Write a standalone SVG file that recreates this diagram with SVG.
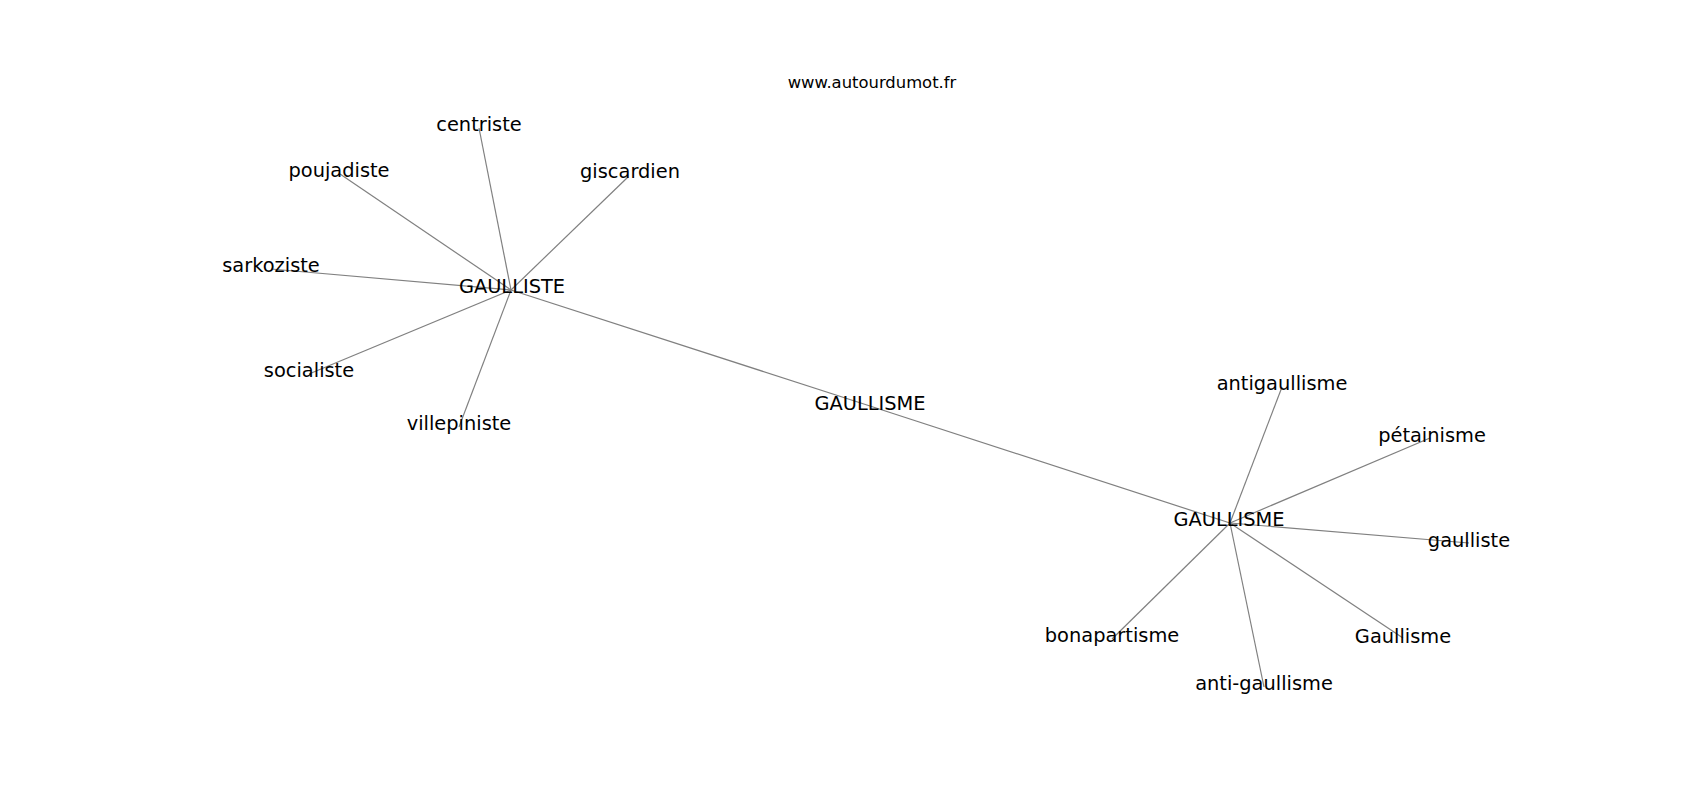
<svg xmlns="http://www.w3.org/2000/svg" width="1700" height="800" viewBox="0 0 1700 800">
<style>
.e{stroke:#808080;stroke-width:1.2;fill:none}
.l{font-family:"DejaVu Sans",sans-serif;font-size:19.4px;fill:#000;text-anchor:middle}
.t{font-family:"DejaVu Sans",sans-serif;font-size:16.4px;fill:#000;text-anchor:middle}
</style>
<rect width="1700" height="800" fill="#fff"/>
<text class="t" x="872" y="88">www.autourdumot.fr</text>
<g id="edges">
<line class="e" x1="511" y1="290" x2="479" y2="128"/>
<line class="e" x1="511" y1="290" x2="340" y2="174"/>
<line class="e" x1="511" y1="290" x2="628" y2="177"/>
<line class="e" x1="511" y1="290" x2="271" y2="269"/>
<line class="e" x1="511" y1="290" x2="309" y2="374"/>
<line class="e" x1="511" y1="290" x2="459" y2="427"/>
<line class="e" x1="511" y1="290" x2="870" y2="406"/>
<line class="e" x1="870" y1="406" x2="1230" y2="523"/>
<line class="e" x1="1230" y1="523" x2="1282" y2="387"/>
<line class="e" x1="1230" y1="523" x2="1430" y2="438"/>
<line class="e" x1="1230" y1="523" x2="1469" y2="543"/>
<line class="e" x1="1230" y1="523" x2="1403" y2="638"/>
<line class="e" x1="1230" y1="523" x2="1112" y2="639"/>
<line class="e" x1="1230" y1="523" x2="1264" y2="687"/>
</g>
<g id="n-gaulliste-hub"><text class="l" x="512" y="293">GAULLISTE</text></g>
<g id="n-centriste"><text class="l" x="479" y="131">centriste</text></g>
<g id="n-poujadiste"><text class="l" x="339" y="177">poujadiste</text></g>
<g id="n-giscardien"><text class="l" x="630" y="178">giscardien</text></g>
<g id="n-sarkoziste"><text class="l" x="271" y="272">sarkoziste</text></g>
<g id="n-socialiste"><text class="l" x="309" y="377">socialiste</text></g>
<g id="n-villepiniste"><text class="l" x="459" y="430">villepiniste</text></g>
<g id="n-gaullisme-mid"><text class="l" x="870" y="410">GAULLISME</text></g>
<g id="n-gaullisme-hub"><text class="l" x="1229" y="526">GAULLISME</text></g>
<g id="n-antigaullisme"><text class="l" x="1282" y="390">antigaullisme</text></g>
<g id="n-petainisme"><text class="l" x="1432" y="442">pétainisme</text></g>
<g id="n-gaulliste"><text class="l" x="1469" y="547">gaulliste</text></g>
<g id="n-Gaullisme"><text class="l" x="1403" y="643">Gaullisme</text></g>
<g id="n-bonapartisme"><text class="l" x="1112" y="642">bonapartisme</text></g>
<g id="n-anti-gaullisme"><text class="l" x="1264" y="690">anti-gaullisme</text></g>
</svg>
